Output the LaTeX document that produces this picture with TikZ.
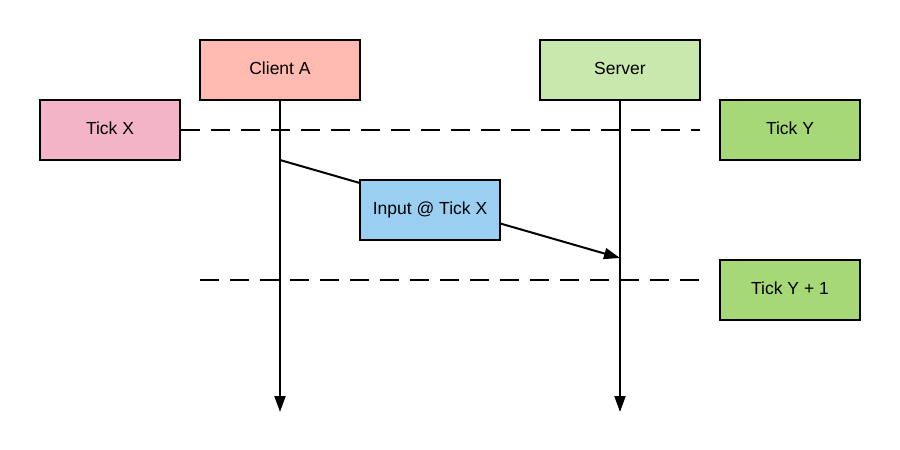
\documentclass[tikz,border=0pt]{standalone}
\usepackage{fontspec}
\setmainfont{Liberation Sans}
\usetikzlibrary{arrows.meta}
\definecolor{clientc}{HTML}{FFBBB1}
\definecolor{serverc}{HTML}{C9E8AE}
\definecolor{tickxc}{HTML}{F4B4C8}
\definecolor{tickyc}{HTML}{A6D877}
\definecolor{inputc}{HTML}{9ACFF2}
\begin{document}
\begin{tikzpicture}[x=1pt,y=-1pt,
  box/.style={draw=black,line width=2pt,minimum width=160pt,minimum height=60pt,inner sep=0pt,text height=13pt,text depth=4pt,font=\fontsize{17.5}{20}\selectfont,anchor=center},
  tickbox/.style={box,minimum width=140pt},
  life/.style={line width=2pt,-{Triangle[length=16pt,width=11pt]}},
  dashline/.style={line width=2pt,dash pattern=on 19pt off 11pt}]
\useasboundingbox (0,0) rectangle (900,450);
\fill[white] (0,0) rectangle (900,450);
\node[box,fill=clientc] (client) at (280,70) {Client A};
\node[box,fill=serverc] (server) at (620,70) {Server};
\node[tickbox,fill=tickxc] (tickx) at (110,130) {Tick X};
\node[tickbox,fill=tickyc] (ticky) at (790,130) {Tick Y};
\node[tickbox,fill=tickyc] (ticky1) at (790,290) {Tick Y + 1};
\coordinate (cend) at (280,412);
\coordinate (send) at (620,412);
\coordinate (msgstart) at (280,160);
\coordinate (msgend) at (620,258);
\coordinate (dend1) at (700,130);
\coordinate (dstart) at (200,280);
\coordinate (dend2) at (700,280);
\draw[dashline] (tickx.east) -- (dend1);
\draw[dashline] (dstart) -- (dend2);
\draw[life] (client.south) -- (cend);
\draw[life] (server.south) -- (send);
\draw[line width=2pt,-{Triangle[length=16pt,width=11pt]}] (msgstart) -- (msgend);
\node[tickbox,fill=inputc] (input) at (430,210) {Input @ Tick X};
\end{tikzpicture}
\end{document}
